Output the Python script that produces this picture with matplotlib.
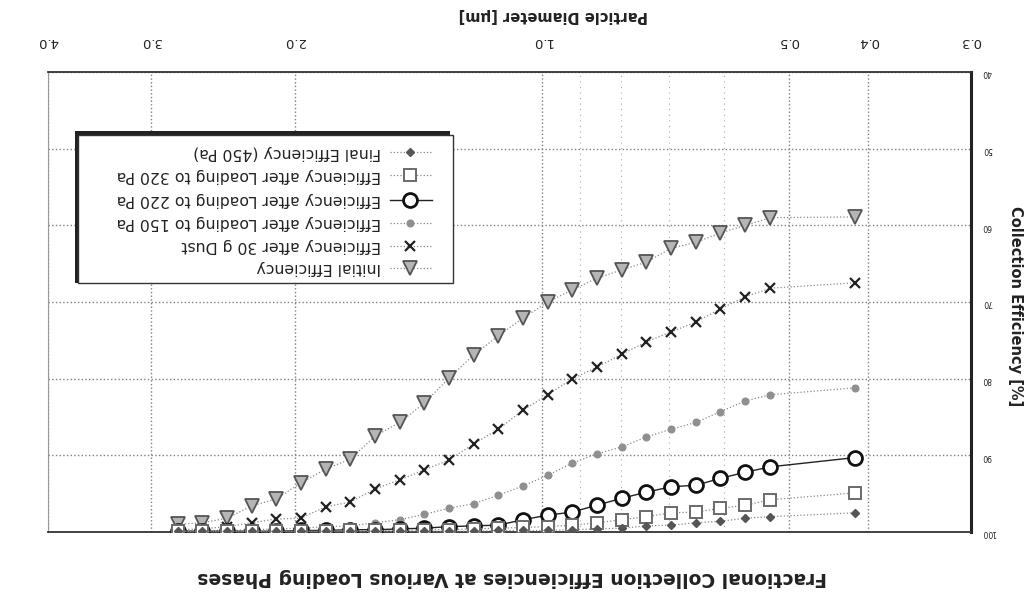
# collection_efficiency.py
# Fractional collection efficiency of a filter at several dust loading stages.
# The whole sheet is laid out turned 180 degrees: both axes run backwards
# and every piece of text is rotated by 180.

import matplotlib
matplotlib.use("Agg")
import matplotlib.pyplot as plt
from matplotlib.patches import Rectangle
from matplotlib.lines import Line2D
from matplotlib.ticker import FixedLocator, FixedFormatter, NullFormatter


# ==============================
# DATA
# ==============================

# particle size channels [um]
diameter_um = [0.416, 0.527, 0.565, 0.606, 0.649, 0.696, 0.746, 0.799, 0.857,
               0.918, 0.984, 1.055, 1.130, 1.211, 1.298, 1.391, 1.491, 1.598,
               1.713, 1.835, 1.967, 2.108, 2.259, 2.421, 2.595, 2.781]

eff_initial = [58.9, 59.0, 60.0, 61.0, 62.2, 63.0, 64.8, 65.8, 66.9, 68.4,
               70.0, 72.1, 74.4, 76.9, 79.9, 83.2, 85.7, 87.5, 90.5, 91.8,
               93.6, 95.7, 96.6, 98.2, 98.8, 99.0]

eff_30g_dust = [67.5, 68.2, 69.3, 70.9, 72.6, 73.9, 75.2, 76.8, 78.5, 80.0,
                82.1, 84.1, 86.6, 88.5, 90.6, 91.9, 93.2, 94.4, 96.1, 96.7,
                98.2, 98.3, 98.8, 99.3, 99.6, 99.7]

eff_150pa = [81.2, 82.1, 82.9, 84.3, 85.7, 86.6, 87.6, 88.9, 89.8, 91.0,
             92.6, 94.0, 95.2, 96.3, 96.9, 97.7, 98.4, 98.8, 99.2, 99.3,
             99.5, 99.6, 99.7, 99.8, 99.8, 99.9]

eff_220pa = [90.3, 91.5, 92.2, 93.0, 93.9, 94.1, 94.8, 95.6, 96.5, 97.4,
             97.8, 98.4, 99.1, 99.2, 99.3, 99.5, 99.6, 99.7, 99.7, 99.8,
             99.8, 99.9, 99.9, 99.9, 99.9, 99.9]

eff_320pa = [94.9, 95.8, 96.5, 96.9, 97.4, 97.5, 98.0, 98.4, 98.8, 99.1,
             99.3, 99.4, 99.5, 99.6, 99.7, 99.7, 99.8, 99.8, 99.8, 99.9,
             99.9, 99.9, 99.9, 99.9, 99.9, 99.9]

eff_final = [97.5, 98.0, 98.2, 98.6, 98.8, 99.1, 99.2, 99.5, 99.6, 99.7,
             99.8, 99.8, 99.8, 99.9, 99.9, 99.9, 99.9, 99.9, 99.9, 99.9,
             99.9, 99.9, 99.9, 99.9, 99.9, 99.9]

series_labels = [
    "Initial Efficiency",
    "Efficiency after 30 g Dust",
    "Efficiency after Loading to 150 Pa",
    "Efficiency after Loading to 220 Pa",
    "Efficiency after Loading to 320 Pa",
    "Final Efficiency (450 Pa)",
]

x_ticks = [0.3, 0.4, 0.5, 1.0, 2.0, 3.0, 4.0]
x_tick_labels = ["0.3", "0.4", "0.5", "1.0", "2.0", "3.0", "4.0"]
y_ticks = [40, 50, 60, 70, 80, 90, 100]

TITLE = "Fractional Collection Efficiencies at Various Loading Phases"
X_LABEL = "Particle Diameter [µm]"
Y_LABEL = "Collection Efficiency [%]"


# ==============================
# STYLES
# ==============================

DOTTED = dict(linestyle=":", linewidth=0.9, color="#8a8a8a")

STYLES = [
    # triangle points down because the sheet is upside down
    dict(marker="v", markersize=9.5, markerfacecolor="#b5b5b5",
         markeredgecolor="#555555", markeredgewidth=1.3, **DOTTED),
    dict(marker="x", markersize=7, markeredgecolor="#222222",
         markeredgewidth=1.6, **DOTTED),
    dict(marker="o", markersize=5, markerfacecolor="#8f8f8f",
         markeredgecolor="#8f8f8f", markeredgewidth=0.8, **DOTTED),
    dict(marker="o", markersize=10, markerfacecolor="white",
         markeredgecolor="#111111", markeredgewidth=2.0,
         linestyle="-", linewidth=1.0, color="#222222"),
    dict(marker="s", markersize=9, markerfacecolor="white",
         markeredgecolor="#6a6a6a", markeredgewidth=1.4, **DOTTED),
    dict(marker="D", markersize=4.5, markerfacecolor="#555555",
         markeredgecolor="#555555", **DOTTED),
]


# ==============================
# PLOTTING
# ==============================

def draw_legend(ax):
    """Boxed legend, built by hand so its text can be turned over."""
    left, right = 0.033, 0.439
    bottom, top = 0.541, 0.863

    shadow = Rectangle((left - 0.004, bottom), right - left, top - bottom + 0.008,
                       transform=ax.transAxes, facecolor="#222222",
                       edgecolor="none", zorder=8)
    box = Rectangle((left, bottom), right - left, top - bottom,
                    transform=ax.transAxes, facecolor="white",
                    edgecolor="#333333", linewidth=1.0, zorder=9)
    ax.add_patch(shadow)
    ax.add_patch(box)

    # top row of the box holds the last series
    rows_y = [0.574, 0.622, 0.672, 0.722, 0.776, 0.826]
    for label, style, y in zip(series_labels, STYLES, rows_y):
        line = Line2D([0.370, 0.416], [y, y], transform=ax.transAxes,
                      zorder=10, **{k: v for k, v in style.items() if k != "marker"})
        line.set_marker("None")
        ax.add_line(line)
        mark = Line2D([0.392], [y], transform=ax.transAxes, zorder=11,
                      **{k: v for k, v in style.items()
                         if k not in ("linestyle", "linewidth", "color")})
        mark.set_linestyle("None")
        ax.add_line(mark)
        ax.text(0.361, y, label, transform=ax.transAxes, rotation=180,
                ha="right", va="center", fontsize=11.3, color="#222222",
                zorder=11)


def build_chart():
    fig = plt.figure(figsize=(10.3, 6.09), dpi=100)
    ax = fig.add_axes([48 / 1030, 77 / 609, 923 / 1030, 460 / 609])

    all_series = [eff_initial, eff_30g_dust, eff_150pa,
                  eff_220pa, eff_320pa, eff_final]
    for values, style in zip(all_series, STYLES):
        ax.plot(diameter_um, values, zorder=5, **style)

    # axes run backwards
    ax.set_xscale("log")
    ax.set_xlim(4.0, 0.3)
    ax.set_ylim(100, 40)

    ax.xaxis.set_major_locator(FixedLocator(x_ticks))
    ax.xaxis.set_major_formatter(FixedFormatter(x_tick_labels))
    ax.xaxis.set_minor_locator(FixedLocator([0.6, 0.7, 0.8, 0.9]))
    ax.xaxis.set_minor_formatter(NullFormatter())
    ax.yaxis.set_major_locator(FixedLocator(y_ticks))

    ax.xaxis.tick_top()
    ax.yaxis.tick_right()
    ax.tick_params(axis="x", which="both", length=0, pad=17, labelsize=9.5,
                   labelrotation=180, labelcolor="#222222")
    ax.tick_params(axis="y", which="both", length=0, pad=8, labelsize=5.5,
                   labelrotation=180, labelcolor="#222222")

    ax.grid(True, which="major", linestyle=":", linewidth=1.0, color="#808080")
    ax.grid(True, which="minor", axis="x", linestyle=(0, (1, 4)),
            linewidth=0.8, color="#aaaaaa")
    ax.set_axisbelow(True)

    for side in ("top", "bottom"):
        ax.spines[side].set_linewidth(1.3)
        ax.spines[side].set_color("#333333")
    ax.spines["left"].set_linewidth(0.8)
    ax.spines["left"].set_color("#999999")
    ax.spines["right"].set_linewidth(2.2)
    ax.spines["right"].set_color("#222222")

    draw_legend(ax)

    fig.text(553 / 1030, 1 - 15 / 609, X_LABEL, rotation=180, ha="center",
             va="center", fontsize=10.5, fontweight="bold", color="#222222")
    fig.text(1015 / 1030, 1 - 306 / 609, Y_LABEL, rotation=270, ha="center",
             va="center", fontsize=10.5, fontweight="bold", color="#222222")
    fig.text(512 / 1030, 1 - 578 / 609, TITLE, rotation=180, ha="center",
             va="center", fontsize=13.5, fontweight="bold", color="#222222")

    fig.savefig("out.png", dpi=100, facecolor="white")
    plt.close(fig)


if __name__ == "__main__":
    build_chart()
